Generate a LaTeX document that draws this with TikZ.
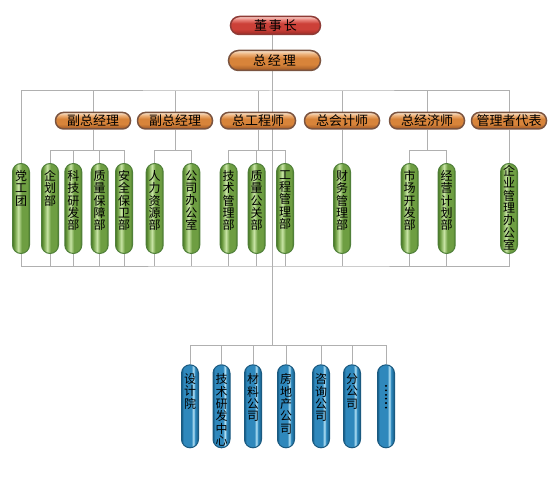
\documentclass[tikz,border=0pt]{standalone}
\usepackage{fontspec}
\usepackage{graphicx}
\usetikzlibrary{backgrounds}
\newfontfamily\cjk{Noto Sans CJK SC}
\newfontfamily\dotfont[FakeBold=3]{Noto Sans CJK SC}
\definecolor{linegray}{HTML}{B0B0B0}
\definecolor{chairhi}{HTML}{F8C8C0}
\definecolor{chairtop}{HTML}{E88078}
\definecolor{chairmid}{HTML}{CC4038}
\definecolor{chairbot}{HTML}{9C2A24}
\definecolor{chairline}{HTML}{8E3B36}
\definecolor{brownhi}{HTML}{F6DEC4}
\definecolor{browntop}{HTML}{EDB078}
\definecolor{brownmid}{HTML}{D8843A}
\definecolor{brownbot}{HTML}{9E5826}
\definecolor{brownline}{HTML}{7B5440}
\definecolor{gedge}{HTML}{4A7826}
\definecolor{gbody}{HTML}{6E9E42}
\definecolor{glight}{HTML}{C8E4A4}
\definecolor{gline}{HTML}{50803A}
\definecolor{bedge}{HTML}{135A84}
\definecolor{bbody}{HTML}{2F88BC}
\definecolor{blight}{HTML}{B4E2F6}
\definecolor{bline}{HTML}{1B5A80}
% glossy fills
\pgfdeclareverticalshading{redpill}{100bp}{color(0bp)=(chairbot); color(25bp)=(chairbot);
  color(40bp)=(chairmid); color(56bp)=(chairmid); color(66bp)=(chairtop); color(74bp)=(chairhi); color(100bp)=(chairhi)}
\pgfdeclareverticalshading{brownpill}{100bp}{color(0bp)=(brownbot); color(25bp)=(brownbot);
  color(40bp)=(brownmid); color(56bp)=(brownmid); color(66bp)=(browntop); color(74bp)=(brownhi); color(100bp)=(brownhi)}
\pgfdeclarehorizontalshading{greencyl}{100bp}{color(0bp)=(gedge); color(25bp)=(gedge); color(31bp)=(gbody);
  color(42bp)=(glight); color(52bp)=(gbody); color(68bp)=(gbody); color(75bp)=(gedge); color(100bp)=(gedge)}
\pgfdeclarehorizontalshading{bluecyl}{100bp}{color(0bp)=(bedge); color(25bp)=(bedge); color(31bp)=(bbody);
  color(54bp)=(bbody); color(60bp)=(blight); color(65bp)=(bbody); color(75bp)=(bedge); color(100bp)=(bedge)}
\newcommand{\vtext}[3]{\parbox[c][#1][t]{14pt}{\centering\vspace*{#2}#3}}
\newcommand{\gtext}[1]{\vtext{90pt}{7pt}{#1}}
\newcommand{\btext}[1]{\vtext{83pt}{9pt}{#1}}
\tikzset{
  conn/.style={draw=linegray, line width=1pt},
  pill/.style={line width=1.5pt, inner sep=0pt, font=\cjk\fontsize{13}{13}\selectfont},
  chairbox/.style={pill, draw=chairline, rounded corners=9pt, minimum width=90pt, minimum height=18pt,
    shading=redpill},
  headbox/.style={pill, draw=brownline, rounded corners=10pt, minimum width=92pt, minimum height=20pt,
    shading=brownpill},
  vpbox/.style={pill, draw=brownline, rounded corners=8pt, minimum width=75pt, minimum height=16.5pt,
    shading=brownpill},
  capsule/.style={line width=1pt, rounded corners=8.5pt, minimum width=17pt, inner sep=0pt,
    anchor=north, font=\cjk\fontsize{12}{12.3}\selectfont},
  gcap/.style={capsule, draw=gline, shading=greencyl},
  bcap/.style={capsule, draw=bline, shading=bluecyl}
}
\begin{document}
\begin{tikzpicture}[x=1pt,y=-1pt]
\useasboundingbox (0,0) rectangle (553,497);
% top of the chart
\node[chairbox] (chair) at (275.5,25.5) {董\hspace{2pt}事\hspace{2pt}长};
\node[headbox] (gm) at (274.5,60.5) {总\hspace{2pt}经\hspace{2pt}理};
\coordinate (bus) at (272,91);
\coordinate (sub) at (272,150.7);
\coordinate (gbus) at (272,266);
\coordinate (bbus) at (272,345.7);
% second row
\node[vpbox] (vp1) at (93,120.7) {副总经理};
\node[vpbox] (vp2) at (175,120.7) {副总经理};
\node[vpbox] (ce) at (258,120.7) {总工程师};
\node[vpbox] (ca) at (342,120.7) {总会计师};
\node[vpbox] (ec) at (427,120.7) {总经济师};
\node[vpbox] (mr) at (509,120.7) {管理者代表};
% departments
\node[gcap] (dgt) at (21,163) {\gtext{党\\工\\团}};
\node[gcap] (qh) at (50,163) {\gtext{企\\划\\部}};
\node[gcap] (kj) at (73.3,163) {\gtext{科\\技\\研\\发\\部}};
\node[gcap] (zl) at (99.7,163) {\gtext{质\\量\\保\\障\\部}};
\node[gcap] (aq) at (124,163) {\gtext{安\\全\\保\\卫\\部}};
\node[gcap] (rl) at (154.7,163) {\gtext{人\\力\\资\\源\\部}};
\node[gcap] (bg) at (191.3,163) {\gtext{公\\司\\办\\公\\室}};
\node[gcap] (js) at (228.7,163) {\gtext{技\\术\\管\\理\\部}};
\node[gcap] (gg) at (256.7,163) {\gtext{质\\量\\公\\关\\部}};
\node[gcap] (gc) at (285,163) {\gtext{工\\程\\管\\理\\部}};
\node[gcap] (cw) at (342,163) {\gtext{财\\务\\管\\理\\部}};
\node[gcap] (sc) at (409.7,163) {\gtext{市\\场\\开\\发\\部}};
\node[gcap] (jy) at (446.7,163) {\gtext{经\\营\\计\\划\\部}};
\node[gcap] (qy) at (509,163) {\vtext{90pt}{2pt}{企\\业\\管\\理\\办\\公\\室}};
% companies
\node[bcap] (sj) at (190,364.3) {\btext{设\\计\\院}};
\node[bcap] (yf) at (221.5,364.3) {\btext{技\\术\\研\\发\\中\\心}};
\node[bcap] (cl) at (253,364.3) {\btext{材\\料\\公\\司}};
\node[bcap] (fd) at (286,364.3) {\btext{房\\地\\产\\公\\司}};
\node[bcap] (zx) at (321,364.3) {\btext{咨\\询\\公\\司}};
\node[bcap] (fg) at (352,364.3) {\btext{分\\公\\司}};
\node[bcap] (et) at (386,364.3) {\vtext{83pt}{19pt}{\dotfont\rotatebox{-90}{……}}};
% now the lines, behind the boxes:
\begin{scope}[on background layer]
\draw[conn] (chair.south -| bus) -- (gm.north -| bus);
\draw[conn] (gm.south -| bus) -- (bbus);
\draw[conn] (dgt.north) |- (bus) -| (mr.north);
\draw[conn] (vp1.north) -- (vp1 |- bus);
\draw[conn] (vp2.north) -- (vp2 |- bus);
\draw[conn] (ce.north) -- (ce |- bus);
\draw[conn] (ca.north) -- (ca |- bus);
\draw[conn] (ec.north) -- (ec |- bus);
\draw[conn] (vp1.south) -- (vp1 |- sub);
\draw[conn] (qh.north) |- (aq |- sub) -- (aq.north);
\draw[conn] (kj.north) -- (kj |- sub) (zl.north) -- (zl |- sub);
\draw[conn] (vp2.south) -- (vp2 |- sub);
\draw[conn] (rl.north) |- (bg |- sub) -- (bg.north);
\draw[conn] (ce.south) -- (ce |- sub);
\draw[conn] (js.north) |- (gc |- sub) -- (gc.north);
\draw[conn] (gg.north) -- (gg |- sub);
\draw[conn] (ca.south) -- (cw.north);
\draw[conn] (ec.south) -- (ec |- sub);
\draw[conn] (sc.north) |- (jy |- sub) -- (jy.north);
\draw[conn] (mr.south) -- (qy.north);
\draw[conn] (dgt.south) |- (gbus) -| (qy.south);
\draw[conn] (qh.south) -- (qh |- gbus) (kj.south) -- (kj |- gbus)
  (zl.south) -- (zl |- gbus) (aq.south) -- (aq |- gbus)
  (rl.south) -- (rl |- gbus) (bg.south) -- (bg |- gbus)
  (js.south) -- (js |- gbus) (gg.south) -- (gg |- gbus)
  (gc.south) -- (gc |- gbus) (cw.south) -- (cw |- gbus)
  (sc.south) -- (sc |- gbus) (jy.south) -- (jy |- gbus);
\draw[conn] (sj.north) |- (bbus) -| (et.north);
\draw[conn] (yf.north) -- (yf |- bbus) (cl.north) -- (cl |- bbus)
  (fd.north) -- (fd |- bbus) (zx.north) -- (zx |- bbus)
  (fg.north) -- (fg |- bbus);
\end{scope}
\end{tikzpicture}
\end{document}
